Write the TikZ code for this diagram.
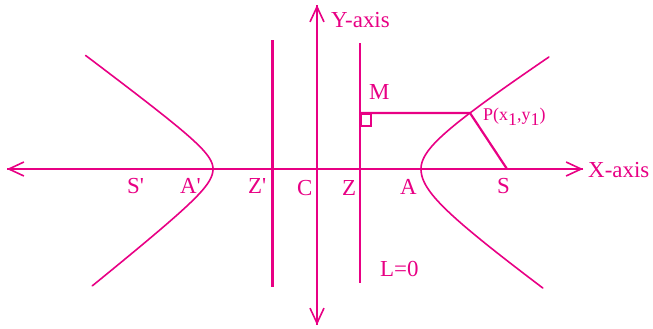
\documentclass[tikz,border=0pt]{standalone}
\usepackage{fontspec}
\setmainfont{Liberation Serif}
\usetikzlibrary{arrows.meta}
\definecolor{pinkc}{RGB}{232,0,132}
\begin{document}
\begin{tikzpicture}[x=1bp,y=-1bp,
  axis/.style={draw=pinkc,line width=2bp,-{Straight Barb[length=15bp,width=14bp,line width=1.6bp]}},
  vline/.style={draw=pinkc,line width=2.2bp},
  curve/.style={draw=pinkc,line width=1.6bp,line cap=round},
  lbl/.style={text=pinkc,inner sep=0pt,anchor=base west,font=\fontsize{23}{23}\selectfont}]
\useasboundingbox (0,0) rectangle (653,328);
% key points
\coordinate (XL) at (7,169);
\coordinate (XR) at (583,169);
\coordinate (YB) at (317,325);
\coordinate (YT) at (317,5);
\coordinate (ZpT) at (272.5,40);
\coordinate (ZpB) at (272.5,287);
\coordinate (DT) at (360,43);
\coordinate (DB) at (360,283);
\coordinate (Mf) at (360,113);
\coordinate (P) at (470,113);
\coordinate (S) at (507,169);
% axes
\draw[axis] (XR) -- (XL);
\draw[axis] (XL) -- (XR);
\draw[axis] (YT) -- (YB);
\draw[axis] (YB) -- (YT);
% vertical lines
\draw[vline] (ZpT) -- (ZpB);
\draw[vline] (DT) -- (DB);
% PM and PS
\draw[vline] (Mf) -- (P) -- (S);
\draw[draw=pinkc,line width=1.3bp] (361.5,114) rectangle (371,126);
% hyperbola branches
\draw[curve] plot[domain=0:2.40,samples=80,variable=\t] ({241-28*cosh(\t)},{169-20.8*sinh(\t)});
\draw[curve] plot[domain=0:2.355,samples=80,variable=\t] ({241-28*cosh(\t)},{169+22.4*sinh(\t)});
\draw[curve] plot[domain=0:1.942,samples=80,variable=\t] ({371+50*cosh(\t)},{169-32.8*sinh(\t)});
\draw[curve] plot[domain=0:1.906,samples=80,variable=\t] ({371+50*cosh(\t)},{169+36.2*sinh(\t)});
% labels
\node[lbl] (ly) at (331,27) {Y-axis};
\node[lbl] (lx) at (588,177) {X-axis};
\node[lbl] (lm) at (369,99.5) {M};
\node[lbl] (lsp) at (127,193) {S\textquotesingle};
\node[lbl] (lap) at (180,193) {A\textquotesingle};
\node[lbl] (lzp) at (248,193) {Z\textquotesingle};
\node[lbl] (lc) at (297,195.5) {C};
\node[lbl] (lz) at (342,195.5) {Z};
\node[lbl] (la) at (400,194.5) {A};
\node[lbl] (ls) at (497,193) {S};
\node[lbl] (ll) at (380,276) {L=0};
\node[lbl,font=\fontsize{18}{18}\selectfont] (lp) at (483,120) {P(x\raisebox{-5bp}{1},y\raisebox{-5bp}{1})};
\end{tikzpicture}
\end{document}
